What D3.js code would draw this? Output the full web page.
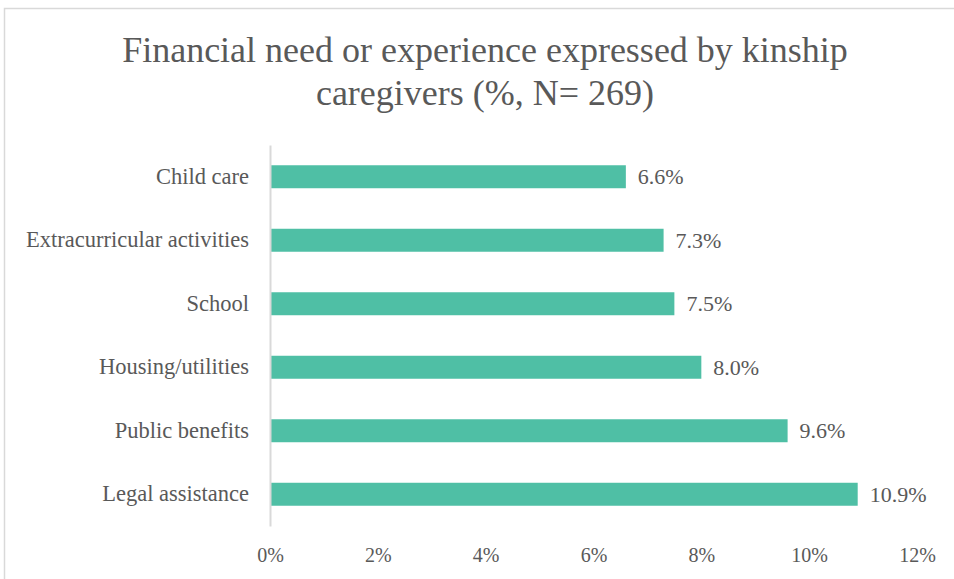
<!DOCTYPE html>
<html><head><meta charset="utf-8">
<script src="https://cdn.jsdelivr.net/npm/d3@7"></script>
<style>body{margin:0;background:#fff;} svg{display:block;} text{font-family:"Liberation Serif","DejaVu Serif",serif;}</style>
</head><body>
<script>
const categories = ["Child care","Extracurricular activities","School","Housing/utilities","Public benefits","Legal assistance"];
const values = [6.6, 7.3, 7.5, 8.0, 9.6, 10.9];
const tickValues = [0, 2, 4, 6, 8, 10, 12];
const titleLines = ["Financial need or experience expressed by kinship", "caregivers (%, N= 269)"];

const W = 954, H = 579;
const grey = "#595959";
const svg = d3.select("body").append("svg").attr("width", W).attr("height", H);

// chart frame
svg.append("rect").attr("x", 4.5).attr("y", 8.5).attr("width", W + 10).attr("height", H + 10)
  .attr("fill", "none").attr("stroke", "#d9d9d9").attr("stroke-width", 1.5);

// title
svg.append("g").selectAll("text").data(titleLines).join("text")
  .attr("x", 485).attr("y", (d, i) => 62 + i * 43)
  .attr("text-anchor", "middle").attr("fill", grey)
  .style("font-size", "36px")
  .text(d => d);

const x = d3.scaleLinear().domain([0, 12]).range([270, 917]);
const y = d3.scaleBand().domain(categories).range([145, 526]).paddingInner(0.638).paddingOuter(0.319);

// bars
svg.append("g").selectAll("rect").data(values).join("rect")
  .attr("x", x(0)).attr("y", (d, i) => y(categories[i]))
  .attr("width", d => x(d) - x(0)).attr("height", y.bandwidth())
  .attr("fill", "#4fbfa5");

// value labels
svg.append("g").selectAll("text").data(values).join("text")
  .attr("x", d => x(d) + 12).attr("y", (d, i) => y(categories[i]) + y.bandwidth() / 2)
  .attr("dy", "0.35em").attr("fill", grey)
  .style("font-size", "22px")
  .text(d => d.toFixed(1) + "%");

// y axis
const yAxis = svg.append("g").attr("transform", `translate(${x(0)},0)`)
  .call(d3.axisLeft(y).tickSize(0).tickPadding(21));
yAxis.attr("font-family", null);
yAxis.select(".domain").attr("stroke", "#d9d9d9").attr("stroke-width", 2);
yAxis.selectAll("text").attr("fill", grey).style("font-size", "22.5px");

// x axis (labels only)
const xAxis = svg.append("g").attr("transform", `translate(0,545)`)
  .call(d3.axisBottom(x).tickValues(tickValues).tickSize(0).tickFormat(d => d + "%"));
xAxis.attr("font-family", null);
xAxis.select(".domain").remove();
xAxis.selectAll("text").attr("fill", grey).style("font-size", "20px");
</script>
</body></html>
